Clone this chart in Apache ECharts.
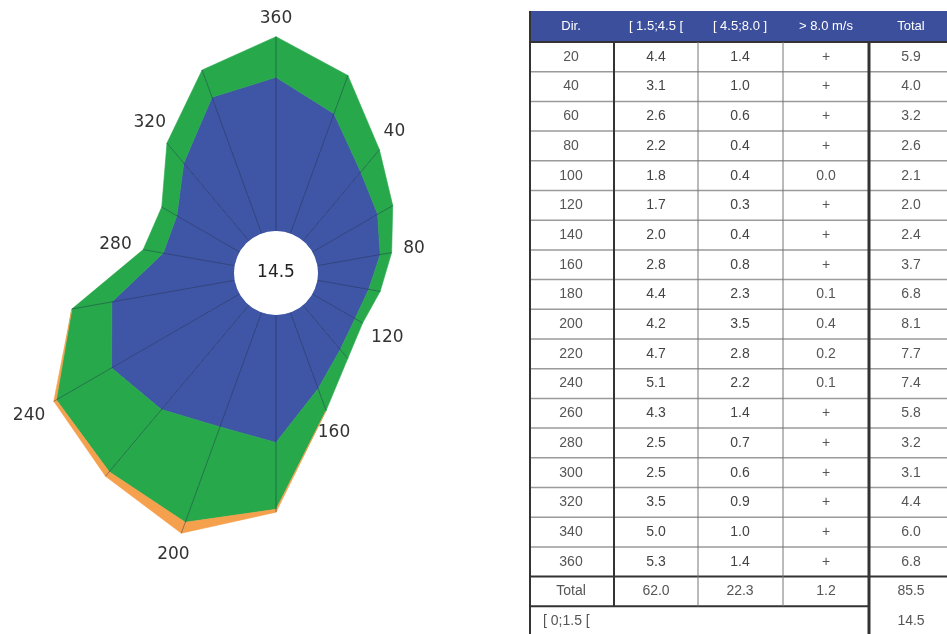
<!DOCTYPE html>
<html>
<head>
<meta charset="utf-8">
<script src="https://cdn.jsdelivr.net/npm/echarts@6/dist/echarts.min.js"></script>
<style>
    html, body { margin: 0; padding: 0; background: #fff; }
    #main { width: 947px; height: 634px; }
</style>
</head>
<body>
<div id="main"></div>
<script>
    // wind directions (deg) and frequencies (%) per speed class
    var dirs = [20, 40, 60, 80, 100, 120, 140, 160, 180, 200, 220, 240, 260, 280, 300, 320, 340, 360];
    var light = [4.4, 3.1, 2.6, 2.2, 1.8, 1.7, 2.0, 2.8, 4.4, 4.2, 4.7, 5.1, 4.3, 2.5, 2.5, 3.5, 5.0, 5.3];
    var moderate = [1.4, 1.0, 0.6, 0.4, 0.4, 0.3, 0.4, 0.8, 2.3, 3.5, 2.8, 2.2, 1.4, 0.7, 0.6, 0.9, 1.0, 1.4];
    var strong = [0, 0, 0, 0, 0, 0, 0, 0, 0.1, 0.4, 0.2, 0.1, 0, 0, 0, 0, 0, 0];
    var strongText = ['+', '+', '+', '+', '0.0', '+', '+', '+', '0.1', '0.4', '0.2', '0.1', '+', '+', '+', '+', '+', '+'];
    var totals = [5.9, 4.0, 3.2, 2.6, 2.1, 2.0, 2.4, 3.7, 6.8, 8.1, 7.7, 7.4, 5.8, 3.2, 3.1, 4.4, 6.0, 6.8];
    var columnTotals = [62.0, 22.3, 1.2, 85.5];
    var calm = 14.5;
    var headers = ['Dir.', '[ 1.5;4.5 [', '[ 4.5;8.0 ]', '> 8.0 m/s', 'Total'];
    var calmLabel = '[ 0;1.5 [';

    var layers = [light, moderate, strong];
    var layerColors = ['#3f56a6', '#27a84b', '#f5a04c'];

    var myChart = echarts.init(document.getElementById('main'));

    function stackTop(i) {
        return light[i] + moderate[i] + strong[i];
    }

    // 风玫瑰 - 每个扇区画三层
    function renderRose(params, api) {
        var i = params.dataIndex;
        var j = (i + 1) % dirs.length;
        var children = [];
        var baseI = 0, baseJ = 0;
        layers.forEach(function (layer, k) {
            var topI = baseI + layer[i];
            var topJ = baseJ + layer[j];
            if (layer[i] > 0 || layer[j] > 0) {
                children.push({
                    type: 'polygon',
                    shape: {
                        points: [
                            api.coord([baseI, dirs[i]]),
                            api.coord([topI, dirs[i]]),
                            api.coord([topJ, dirs[j]]),
                            api.coord([baseJ, dirs[j]])
                        ]
                    },
                    style: { fill: layerColors[k], stroke: layerColors[k], lineWidth: 0.6 }
                });
            }
            baseI = topI;
            baseJ = topJ;
        });
        return { type: 'group', children: children };
    }

    function renderSpoke(params, api) {
        var i = params.dataIndex;
        var a = api.coord([0, dirs[i]]);
        var b = api.coord([stackTop(i), dirs[i]]);
        return {
            type: 'line',
            shape: { x1: a[0], y1: a[1], x2: b[0], y2: b[1] },
            style: { stroke: 'rgba(15,30,60,0.4)', lineWidth: 1 }
        };
    }

    function renderDirLabel(params, api) {
        var i = params.dataIndex;
        var d = dirs[i];
        if (d % 40 !== 0) return null;
        var c = api.coord([0, d]);
        var p = api.coord([stackTop(i), d]);
        var dx = p[0] - c[0], dy = p[1] - c[1];
        var len = Math.sqrt(dx * dx + dy * dy);
        var ux = dx / len, uy = dy / len;
        var halfW = String(d).length * 5.4;
        var off = 11 + Math.abs(ux) * halfW + Math.abs(uy) * 7;
        return {
            type: 'text',
            x: p[0] + ux * off,
            y: p[1] + uy * off,
            style: {
                text: String(d),
                fill: '#333',
                font: '17px "DejaVu Sans"',
                align: 'center', verticalAlign: 'middle',
                textAlign: 'center', textVerticalAlign: 'middle'
            }
        };
    }

    // 表格
    var tLeft = 530, tTop = 11, headH = 31, rowH = 29.7, tRight = 947;
    var colX = [530, 614, 698, 783, 869];
    var colCenter = [571, 656, 740, 826, 911];
    var bodyTop = tTop + headH;
    var bodyBottom = bodyTop + dirs.length * rowH;
    var totalBottom = bodyBottom + rowH;

    function txt(x, y, s, color, size, align) {
        return {
            type: 'text', x: x, y: y, silent: true,
            style: {
                text: s, fill: color, font: size + 'px "Liberation Sans"',
                align: align || 'center', verticalAlign: 'middle',
                textAlign: align || 'center', textVerticalAlign: 'middle'
            }
        };
    }
    function ln(x1, y1, x2, y2, color, w) {
        return {
            type: 'line', silent: true,
            shape: { x1: x1, y1: y1, x2: x2, y2: y2 },
            style: { stroke: color, lineWidth: w }
        };
    }

    var table = [];
    table.push({
        type: 'rect', silent: true,
        shape: { x: tLeft, y: tTop, width: tRight - tLeft, height: headH },
        style: { fill: '#3c4f9d' }
    });
    headers.forEach(function (h, c) {
        table.push(txt(colCenter[c], tTop + headH / 2, h, '#fff', 13));
    });
    dirs.forEach(function (d, r) {
        var y = bodyTop + (r + 0.5) * rowH;
        table.push(txt(colCenter[0], y, String(d), '#555', 14));
        table.push(txt(colCenter[1], y, light[r].toFixed(1), '#444', 14));
        table.push(txt(colCenter[2], y, moderate[r].toFixed(1), '#444', 14));
        table.push(txt(colCenter[3], y, strongText[r], '#555', 14));
        table.push(txt(colCenter[4], y, totals[r].toFixed(1), '#555', 14));
        if (r > 0) {
            table.push(ln(tLeft, bodyTop + r * rowH, tRight, bodyTop + r * rowH, '#9a9a9a', 1.5));
        }
    });
    var yTot = bodyBottom + rowH / 2;
    table.push(txt(colCenter[0], yTot, 'Total', '#555', 14));
    columnTotals.forEach(function (v, c) {
        table.push(txt(colCenter[c + 1], yTot, v.toFixed(1), '#555', 14));
    });
    var yCalm = totalBottom + rowH / 2;
    table.push(txt(tLeft + 13, yCalm, calmLabel, '#555', 14, 'left'));
    table.push(txt(colCenter[4], yCalm, calm.toFixed(1), '#555', 14));

    table.push(ln(tLeft, bodyTop, tRight, bodyTop, '#333', 2));
    table.push(ln(tLeft, bodyBottom, tRight, bodyBottom, '#333', 2));
    table.push(ln(tLeft, totalBottom, colX[4], totalBottom, '#333', 2));
    table.push(ln(colX[0], tTop, colX[0], 634, '#333', 2));
    table.push(ln(colX[1], bodyTop, colX[1], totalBottom, '#333', 2));
    table.push(ln(colX[2], bodyTop, colX[2], totalBottom, '#777', 1));
    table.push(ln(colX[3], bodyTop, colX[3], totalBottom, '#777', 1));
    table.push(ln(colX[4], bodyTop, colX[4], 634, '#333', 3));

    var roseData = dirs.map(function (d, i) { return [stackTop(i), d]; });

    var option = {
        animation: false,
        polar: { center: [276, 273], radius: [42, 303] },
        angleAxis: { type: 'value', min: 0, max: 360, startAngle: 90, clockwise: true, show: false },
        radiusAxis: { type: 'value', min: 0, max: 9, show: false },
        graphic: { elements: table },
        series: [
            {
                type: 'custom', coordinateSystem: 'polar', silent: true,
                data: roseData, renderItem: renderRose
            },
            {
                type: 'custom', coordinateSystem: 'polar', silent: true,
                data: roseData, renderItem: renderSpoke
            },
            {
                type: 'pie', center: [276, 273], radius: [0, 42], silent: true,
                itemStyle: { color: '#fff' },
                label: {
                    show: true, position: 'center', formatter: '{c}',
                    fontSize: 17, fontFamily: 'DejaVu Sans', color: '#222'
                },
                labelLine: { show: false },
                emphasis: { disabled: true },
                data: [{ name: 'calm', value: calm }]
            },
            {
                type: 'custom', coordinateSystem: 'polar', silent: true,
                data: roseData, renderItem: renderDirLabel
            }
        ]
    };
    myChart.setOption(option);
</script>
</body>
</html>
